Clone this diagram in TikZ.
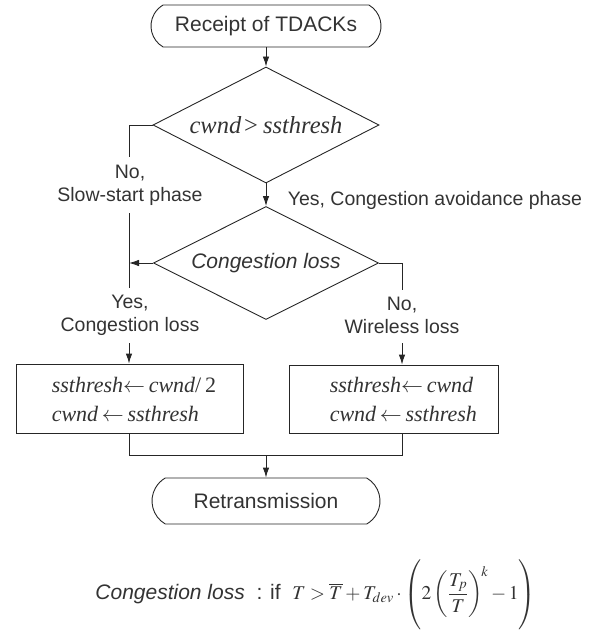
\documentclass[tikz,border=0pt]{standalone}
\usepackage{mathptmx}
\usepackage[no-math]{fontspec}
\setmainfont{Liberation Sans}
\newfontfamily\tms{Liberation Serif}
\usetikzlibrary{shapes.geometric,shapes.misc,arrows.meta}
\definecolor{linec}{gray}{0.15}
\definecolor{txtc}{gray}{0.2}
\tikzset{
  term/.style={rounded rectangle, rounded rectangle arc length=120, draw, minimum width=230pt, minimum height=42pt, inner sep=0pt},
  dia/.style={diamond, draw, inner sep=0pt},
  boxn/.style={rectangle, draw, inner sep=0pt},
  nodetxt/.style={font=\fontsize{21}{25}\selectfont},
  lbl/.style={align=center, font=\fontsize{19.5}{23}\selectfont},
  arr/.style={-{Latex[length=10pt,width=6.5pt]}},
}
\begin{document}
\begin{tikzpicture}[x=1pt, y=-1pt, line width=0.9pt, draw=linec, text=txtc]
\useasboundingbox (0,0) rectangle (597,634);
% terminals
\node[term, nodetxt] (top) at (266,26) {Receipt of TDACKs};
\node[term, nodetxt, minimum width=228pt, minimum height=46pt] (bot) at (266,501) {Retransmission};
% decisions
\node[dia, minimum width=226pt, minimum height=116pt] (d1) at (266,125) {};
\node[font=\fontsize{24.5}{28}\selectfont] (d1t) at (d1) {\tms\itshape cwnd\hspace{3pt}{\upshape >}\hspace{5pt}ssthresh};
\node[dia, minimum width=225pt, minimum height=113pt] (d2) at (266,263) {};
\node[nodetxt] (d2t) at (d2) {\itshape Congestion loss};
% boxes
\node[boxn, minimum width=227pt, minimum height=69pt] (b1) at (129.5,398.5) {};
\node[anchor=west, align=left, font=\fontsize{22}{29}\selectfont\tms] (b1t) at (48,399)
  {\itshape ssthresh$\leftarrow$\,cwnd\/{\upshape/}\,{\upshape 2}\\ \itshape cwnd\,$\leftarrow$\,ssthresh};
\node[boxn, minimum width=209pt, minimum height=68pt] (b2) at (393.5,399) {};
\node[anchor=west, align=left, font=\fontsize{22}{29}\selectfont\tms] (b2t) at (326,399)
  {\itshape ssthresh$\leftarrow$\,cwnd\\ \itshape cwnd\,$\leftarrow$\,ssthresh};
% labels
\node[lbl] (lno) at (130,185) {No,\\Slow-start phase};
\node[lbl, anchor=west] (lyes) at (284,200) {Yes, Congestion avoidance phase};
\node[lbl] (lyc) at (130,315) {Yes,\\Congestion loss};
\node[lbl] (lnw) at (402,315) {No,\\Wireless loss};
% helper coordinates
\coordinate (L1) at (129,125);
\coordinate (L2) at (129,157);
\coordinate (L3) at (129,213);
\coordinate (L4) at (129,288);
\coordinate (Lm) at (129,263);
\coordinate (L5) at (129,343);
\coordinate (R1) at (402,263);
\coordinate (R2) at (402,290);
\coordinate (R3) at (402,343);
\coordinate (J1) at (129,455);
\coordinate (J2) at (402,455);
\coordinate (J0) at (266,455);
% connectors
\draw[arr] (top.south) -- (d1.north);
\draw[arr] (d1.south) -- (d2.north);
\draw (d1.west) -- (L1) -- (L2);
\draw (L3) -- (L4);
\draw[arr] (d2.west) -- (Lm);
\draw[arr] (L5) -- (L5 |- b1.north);
\draw (d2.east) -- (R1) -- (R2);
\draw[arr] (R3) -- (R3 |- b2.north);
\draw (J1 |- b1.south) -- (J1) -- (J2) -- (J2 |- b2.south);
\draw[arr] (J0) -- (bot.north);
% formula
\node[anchor=west, font=\fontsize{21}{25}\selectfont, inner sep=0pt] (form) at (95,595)
  {{\itshape Congestion loss}\ \ : if\ \ {\fontsize{19.5}{23}\selectfont$\displaystyle T>\overline{T}+T_{dev}\cdot\left(\rule[-31pt]{0pt}{70pt}2\left(\frac{T_p}{T}\right)^{\!k}-1\right)$}};
\end{tikzpicture}
\end{document}
